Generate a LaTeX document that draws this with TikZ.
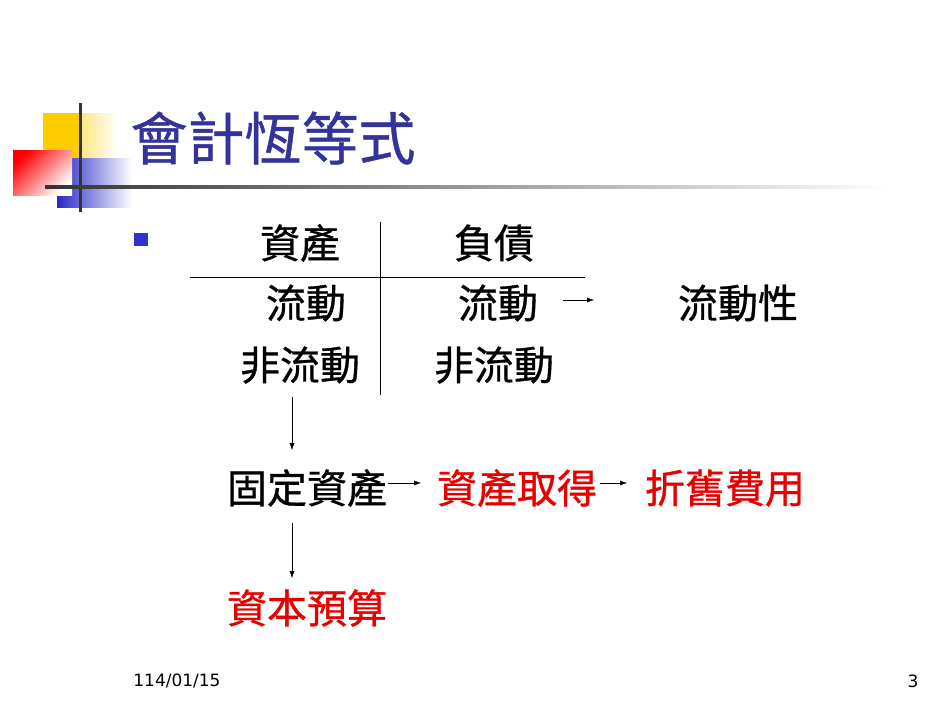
\documentclass[tikz,border=0pt]{standalone}
\usepackage{fontspec}
\usetikzlibrary{arrows.meta}
\setmainfont{DejaVu Sans}
\newfontfamily\cjk{Noto Sans CJK TC}[FakeBold=0.8]
\definecolor{ylw}{RGB}{255,204,0}
\definecolor{blu}{RGB}{40,40,200}
\definecolor{ttl}{RGB}{51,51,153}
\definecolor{bul}{RGB}{51,51,204}
\definecolor{rd}{RGB}{230,0,0}
\begin{document}
\begin{tikzpicture}[x=1pt,y=-1pt,
  body/.style={font=\cjk\fontsize{40}{44}\selectfont,inner sep=0pt},
  redt/.style={body,text=rd},
  arr/.style={-{Latex[length=7pt,width=5pt]},thin}]
\useasboundingbox (0,0) rectangle (950,713);
\fill[white] (0,0) rectangle (950,713);
% logo
\shade[left color=ylw, right color=white] (43,113) rectangle (118,158);
\fill[ylw] (43,113) rectangle (80,158);
\shade[left color=blu, right color=white] (57,158) rectangle (132,207);
\shade[top color=red, bottom color=white, shading angle=45] (13,150) rectangle (72,195);
\draw[line width=3pt,black!80] (80,103) -- (80,212);
\shade[left color=black!80, right color=white] (45,185.5) rectangle (890,188.5);
\node[font=\cjk\fontsize{57}{60}\selectfont,text=ttl,inner sep=0pt] (title) at (273,138) {會計恆等式};
\fill[bul] (134,233) rectangle (148,246);
% T account
\node[body] (a) at (300,243) {資產};
\node[body] (l) at (494,243) {負債};
\draw (380,222) -- (380,395);
\draw (190,277) -- (585,277);
\node[body] (a1) at (306,303) {流動};
\node[body] (l1) at (498,303) {流動};
\node[body] (liq) at (738,303) {流動性};
\coordinate (s1) at (563,300); \coordinate (e1) at (594,300);
\draw[arr] (s1) -- (e1);
\node[body] (a2) at (300,365) {非流動};
\node[body] (l2) at (494,365) {非流動};
\node[body] (fa) at (307,488) {固定資產};
\node[redt] (acq) at (517,488) {資產取得};
\node[redt] (dep) at (725,488) {折舊費用};
\node[redt] (cb) at (307,608) {資本預算};
\draw[arr] (292,397) -- (292,450);
\draw[arr] (388,483) -- (421,483);
\draw[arr] (600,483) -- (627,483);
\draw[arr] (292,523) -- (292,578);
\node[font=\fontsize{17}{19}\selectfont] (date) at (177,681) {114/01/15};
\node[font=\fontsize{17}{19}\selectfont] (pg) at (913,681) {3};
\end{tikzpicture}
\end{document}
